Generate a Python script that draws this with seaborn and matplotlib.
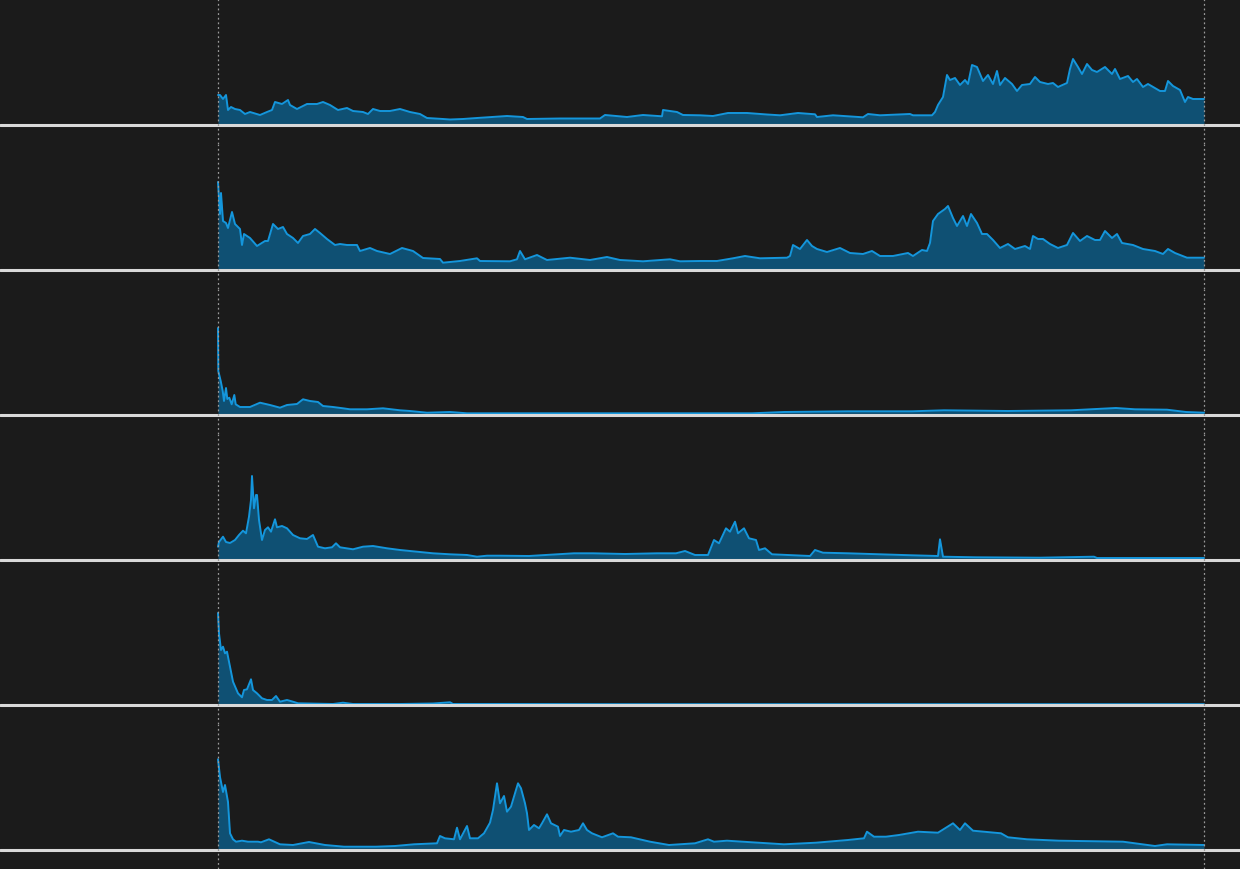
import numpy as np
import pandas as pd
import matplotlib
matplotlib.use("Agg")
import matplotlib.pyplot as plt
import seaborn as sns

# six series, day index vs value
p1_day = [0, 2, 5, 8, 10, 13, 17, 22, 27, 32,
          42, 49, 54, 57, 64, 70, 72, 79, 89, 99,
          105, 112, 120, 129, 135, 145, 150, 155, 162, 172,
          182, 192, 202, 209, 225, 232, 245, 259, 289, 305,
          309, 342, 382, 387, 409, 425, 444, 445, 459, 465,
          482, 495, 510, 529, 549, 562, 580, 597, 599, 615,
          645, 650, 662, 692, 695, 714, 717, 720, 725, 729,
          732, 737, 742, 747, 750, 754, 759, 765, 770, 775,
          779, 782, 787, 794, 799, 804, 812, 817, 822, 830,
          835, 840, 849, 852, 855, 860, 864, 869, 874, 879,
          887, 894, 897, 902, 910, 915, 919, 925, 930, 942,
          947, 950, 955, 962, 967, 970, 975, 986]
p1_val = [30, 30, 26, 30, 15, 18, 16, 15, 11, 13,
          10, 13, 15, 23, 21, 25, 20, 16, 21, 21,
          23, 20, 15, 17, 14, 13, 11, 16, 14, 14,
          16, 13, 11, 7, 6, 5.5, 6, 7, 9, 8,
          6, 6.5, 6.5, 10, 8, 10, 8.7, 15, 13, 10,
          9.7, 9, 12, 12, 10.5, 9.7, 12, 10.7, 8, 9.7,
          7.7, 11, 9.7, 11, 9.7, 9.7, 13, 20, 28, 50,
          45, 47, 40, 45, 41, 60, 58, 44, 50, 41,
          54, 40, 47, 41, 34, 40, 41, 48, 43, 41,
          42, 38, 42, 56, 66, 58, 51, 61, 55, 53,
          58, 51, 56, 46, 49, 43, 46, 38, 41, 34,
          34, 44, 39, 35, 23, 28, 26, 26]

p2_day = [0, 2, 3, 5, 8, 10, 14, 17, 22, 24,
          26, 32, 39, 47, 50, 55, 60, 65, 69, 75,
          80, 85, 92, 97, 102, 109, 117, 122, 129, 139,
          142, 152, 159, 172, 184, 195, 205, 222, 225, 242,
          259, 262, 292, 299, 302, 307, 319, 329, 352, 372,
          389, 402, 425, 452, 462, 482, 499, 515, 527, 542,
          569, 572, 575, 582, 589, 594, 599, 609, 622, 632,
          645, 654, 662, 675, 690, 695, 704, 709, 712, 715,
          720, 727, 730, 735, 739, 745, 749, 753, 759, 764,
          769, 775, 782, 790, 797, 807, 812, 815, 820, 825,
          832, 840, 849, 855, 862, 869, 877, 882, 887, 894,
          899, 904, 915, 925, 937, 945, 950, 957, 969, 986]
p2_val = [88, 56, 77, 49, 47, 42, 58, 46, 41, 25,
          36, 32, 24, 29, 29, 46, 41, 43, 36, 32,
          27, 34, 36, 41, 37, 31, 25, 26, 25, 25,
          19, 22, 19, 16, 22, 19, 12, 11, 7.3, 9,
          11.7, 9, 8.7, 10.7, 19, 10.7, 15, 10, 12.3, 10,
          13, 10, 8.7, 10.7, 8.7, 9, 9, 11.7, 14, 11.7,
          12.3, 14, 25, 21, 30, 24, 21, 18, 22, 17,
          16, 19, 14, 14, 17, 14, 20, 19, 27, 49,
          56, 61, 64, 52, 44, 54, 44, 56, 47, 36,
          36, 30, 22, 26, 21, 24, 21, 34, 31, 31,
          26, 22, 25, 37, 29, 34, 30, 30, 39, 32,
          36, 27, 25, 21, 19, 16, 21, 17, 12.3, 12.3]

p3_day = [0, 0.3, 2.7, 4.7, 6, 8, 9.3, 11.3, 13.7, 16.3,
          17.7, 22, 32, 42, 52, 62, 69, 79, 85, 92,
          100, 105, 115, 125, 132, 149, 165, 182, 192, 209,
          232, 249, 282, 311, 439, 534, 566, 630, 694, 726,
          790, 853, 898, 917, 949, 968, 986]
p3_val = [87, 44, 34, 24, 14, 27, 16, 17.3, 10.7, 20,
          10.7, 8, 8, 12.3, 10, 7.3, 10, 11, 15.7, 14,
          13, 9, 8, 6.7, 5.7, 5.7, 6.7, 4.7, 4, 2.3,
          3, 1.7, 1.7, 1.7, 1.7, 1.7, 3, 3.7, 3.7, 4.7,
          4, 4.7, 7, 5.7, 5.3, 3, 2.3]

p4_day = [0, 1, 5, 8, 12, 17, 21, 25, 28, 31,
          33, 34, 36, 38, 39, 41, 44, 47, 50, 53,
          57, 59, 64, 69, 75, 82, 89, 95, 100, 107,
          114, 118, 122, 135, 145, 155, 169, 182, 199, 215,
          232, 249, 259, 269, 282, 311, 356, 375, 407, 439,
          458, 467, 477, 490, 496, 501, 508, 512, 517, 520,
          526, 531, 538, 541, 547, 554, 592, 597, 605, 630,
          662, 694, 720, 722, 725, 758, 822, 876, 879, 917,
          986]
p4_val = [13.3, 18, 23.3, 18, 17, 20, 25, 29.3, 26.7, 43.3,
          60, 84, 51.7, 65, 65, 40, 20, 30, 32.7, 28.3,
          40.7, 32.7, 34, 31.7, 25, 21.7, 21, 25, 13.3, 11.7,
          12.7, 16.7, 12.7, 10.7, 13.3, 14, 11.7, 10, 8.3, 6.7,
          5.7, 5, 3.3, 4.3, 4.3, 4, 6.7, 6.7, 6, 6.7,
          6.7, 9, 5, 5, 20, 16.7, 31.7, 28.3, 38.3, 26.7,
          31.7, 21.7, 20, 10, 11.7, 5.7, 4, 10, 7.3, 6.7,
          5.7, 4.7, 4, 20.7, 3.3, 2.7, 2.3, 3.3, 2, 2,
          2]

p5_day = [0, 1, 3, 5, 7, 9, 12, 15, 20, 24,
          26, 29, 33, 35, 39, 44, 49, 54, 58, 62,
          69, 75, 80, 115, 125, 135, 182, 215, 232, 235,
          282, 400, 600, 800, 986]
p5_val = [92, 71.7, 55, 58.3, 51.7, 53.3, 38.3, 23.3, 11.7, 7.7,
          15, 15.7, 25.7, 15, 11.7, 6.7, 5, 5, 9, 3.3,
          5, 3.3, 1.7, 1, 2.3, 1, 1, 1.5, 2.7, 1,
          1, 0.8, 0.8, 0.8, 0.8]

p6_day = [0, 2, 5, 7, 10, 12, 15, 18, 24, 30,
          40, 43, 51, 62, 75, 91, 107, 126, 158, 177,
          196, 219, 222, 227, 236, 239, 242, 249, 252, 260,
          266, 272, 275, 279, 282, 286, 289, 293, 297, 300,
          303, 307, 309, 311, 316, 321, 324, 329, 333, 340,
          342, 346, 353, 361, 365, 369, 374, 384, 395, 400,
          413, 432, 451, 477, 490, 496, 509, 534, 566, 598,
          630, 646, 649, 656, 668, 681, 700, 720, 735, 742,
          747, 755, 783, 790, 809, 841, 905, 937, 949, 986]
p6_val = [90.7, 73, 58, 65, 48, 16.7, 10.7, 8.3, 9.3, 8.3,
          8.3, 7.7, 10.7, 5.7, 5, 8, 5, 3.3, 3.3, 4,
          5.7, 6.7, 14, 11.7, 10.7, 22.3, 10.7, 24, 11.7, 11.7,
          16.7, 27.3, 40, 66.7, 46.7, 54, 38.3, 43.3, 56.7, 66.7,
          61.7, 46.7, 36.7, 20, 25, 21.7, 26.7, 35.7, 26.7, 23.3,
          14, 20, 18.3, 20, 26.7, 20, 16.7, 12.7, 16.7, 13.3,
          12.7, 8.3, 5, 6.7, 10.7, 8.3, 9.3, 7.7, 5.7, 7.3,
          10, 11.7, 18.3, 13.3, 13.3, 15, 18.3, 17.3, 26.7, 20,
          26.7, 19.3, 16.7, 12.7, 10.7, 9.3, 8.3, 4, 5.7, 5]

series = [(p1_day, p1_val), (p2_day, p2_val), (p3_day, p3_val),
          (p4_day, p4_val), (p5_day, p5_val), (p6_day, p6_val)]

BG = "#1b1b1b"
LINE = "#1496dc"

sns.set_style("dark", {"axes.facecolor": BG, "figure.facecolor": BG})

fig, axes = plt.subplots(6, 1, figsize=(12.4, 8.7), dpi=100)
fig.subplots_adjust(left=0, right=1, top=1, bottom=0, hspace=0)

for ax, (dias, vals) in zip(axes, series):
    df = pd.DataFrame({"day": dias, "value": vals})
    ax.fill_between(df["day"], 0, df["value"], color="#0f5479", alpha=0.95, lw=0)
    sns.lineplot(data=df, x="day", y="value", ax=ax, color=LINE, lw=1.4,
                 estimator=None, sort=False)
    ax.axhline(0, color="#d9d9d9", lw=2.2, zorder=5)
    for d in (0, 986):
        ax.axvline(d, color="#9a9a9a", lw=0.9, ls=(0, (1.5, 2.2)), zorder=6)
    ax.set_xlim(-218, 1022)
    ax.set_ylim(-19, 126)
    ax.set_xticks([])
    ax.set_yticks([])
    ax.set_xlabel("")
    ax.set_ylabel("")
    for s in ax.spines.values():
        s.set_visible(False)

fig.savefig("out.png", dpi=100, facecolor=BG)
